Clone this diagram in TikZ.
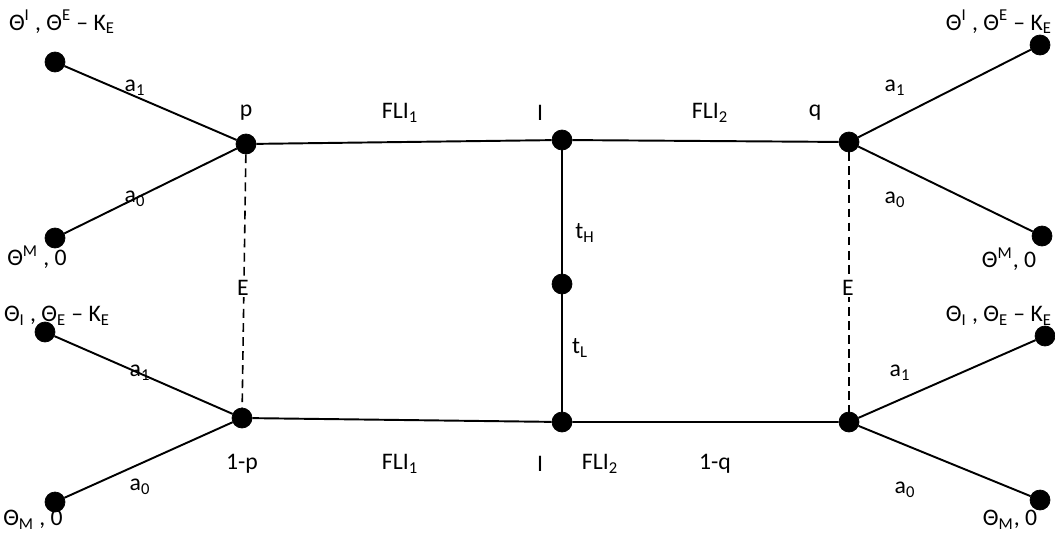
\documentclass[tikz,border=0pt]{standalone}
\usepackage{fontspec}
\setmainfont{Carlito}
\usepackage{tikz}
\usetikzlibrary{positioning}
\tikzstyle{dot} = [fill=black,inner sep=0mm,circle,draw,minimum size=0.4cm]
\tikzstyle{lbl} = [inner sep=1pt,font=\fontsize{13.5}{16}\selectfont]
\tikzstyle{edge} = [line width=1.1pt]
\tikzstyle{tie} = [line width=0.9pt,dash pattern=on 5pt off 3pt]

\begin{document}
\begin{tikzpicture}
        \useasboundingbox (0,0) rectangle (21.1,10.64);
        \clip (0,0) rectangle (21.1,10.64);

        % upper branch
        \node[dot] (tl1) at (1.10,9.40) {};
        \node[dot] (tl0) at (1.10,5.88) {};
        \node[dot] (p) at (4.92,7.76) {};
        \node[dot] (itop) at (11.24,7.84) {};
        \node[dot] (q) at (16.98,7.80) {};
        \node[dot] (tr1) at (20.80,9.74) {};
        \node[dot] (tr0) at (20.84,5.92) {};
        \node[dot] (mid) at (11.24,4.96) {};
        % lower branch
        \node[dot] (np) at (4.84,2.28) {};
        \node[dot] (ibot) at (11.24,2.20) {};
        \node[dot] (nq) at (16.98,2.20) {};
        \node[dot] (bl1) at (0.90,4.00) {};
        \node[dot] (bl0) at (1.10,0.60) {};
        \node[dot] (br1) at (20.90,3.92) {};
        \node[dot] (br0) at (20.80,0.64) {};

        \draw[edge] (tl1) to (p) (tl0) to (p);
        \draw[edge] (p) to (itop) (itop) to (q);
        \draw[edge] (q) to (tr1) (q) to (tr0);
        \draw[edge] (itop) to (mid) (mid) to (ibot);
        \draw[edge] (bl1) to (np) (bl0) to (np);
        \draw[edge] (np) to (ibot) (ibot) to (nq);
        \draw[edge] (nq) to (br1) (nq) to (br0);
        \draw[tie] (p) to (np);
        \draw[tie] (q) to (nq);

        % payoffs
        \node[lbl] (otl1) at (1.24,10.20) {Θ\textsuperscript{I} , Θ\textsuperscript{E} – K\textsubscript{E}};
        \node[lbl] (otl0) at (0.74,5.50) {Θ\textsuperscript{M} , 0};
        \node[lbl,anchor=east] (otr1) at (21.08,10.20) {Θ\textsuperscript{I} , Θ\textsuperscript{E} – K\textsubscript{E}};
        \node[lbl] (otr0) at (20.18,5.46) {Θ\textsuperscript{M}, 0};
        \node[lbl] (obl1) at (1.14,4.32) {Θ\textsubscript{I} , Θ\textsubscript{E} – K\textsubscript{E}};
        \node[lbl] (obl0) at (0.66,0.24) {Θ\textsubscript{M} , 0};
        \node[lbl,anchor=east] (obr1) at (21.08,4.32) {Θ\textsubscript{I} , Θ\textsubscript{E} – K\textsubscript{E}};
        \node[lbl] (obr0) at (20.20,0.24) {Θ\textsubscript{M}, 0};

        % actions and probabilities
        \node[lbl] at (2.70,8.88) {a\textsubscript{1}};
        \node[lbl] at (2.70,6.66) {a\textsubscript{0}};
        \node[lbl] at (17.90,8.88) {a\textsubscript{1}};
        \node[lbl] at (17.90,6.64) {a\textsubscript{0}};
        \node[lbl] at (2.80,3.18) {a\textsubscript{1}};
        \node[lbl] at (2.80,0.90) {a\textsubscript{0}};
        \node[lbl] at (18.00,3.18) {a\textsubscript{1}};
        \node[lbl] at (18.10,0.84) {a\textsubscript{0}};
        \node[lbl] at (4.92,8.38) {p};
        \node[lbl] at (16.30,8.38) {q};
        \node[lbl] at (8.00,8.38) {FLI\textsubscript{1}};
        \node[lbl] at (10.80,8.38) {I};
        \node[lbl] at (14.20,8.38) {FLI\textsubscript{2}};
        \node[lbl] at (4.84,1.36) {1-p};
        \node[lbl] at (8.00,1.36) {FLI\textsubscript{1}};
        \node[lbl] at (10.80,1.36) {I};
        \node[lbl] at (12.00,1.36) {FLI\textsubscript{2}};
        \node[lbl] at (14.30,1.36) {1-q};
        \node[lbl] at (11.70,5.98) {t\textsubscript{H}};
        \node[lbl] at (11.60,3.68) {t\textsubscript{L}};
        \node[lbl,fill=white] at (4.86,4.88) {E};
        \node[lbl,fill=white] at (16.96,4.88) {E};
    \end{tikzpicture}
\end{document}
